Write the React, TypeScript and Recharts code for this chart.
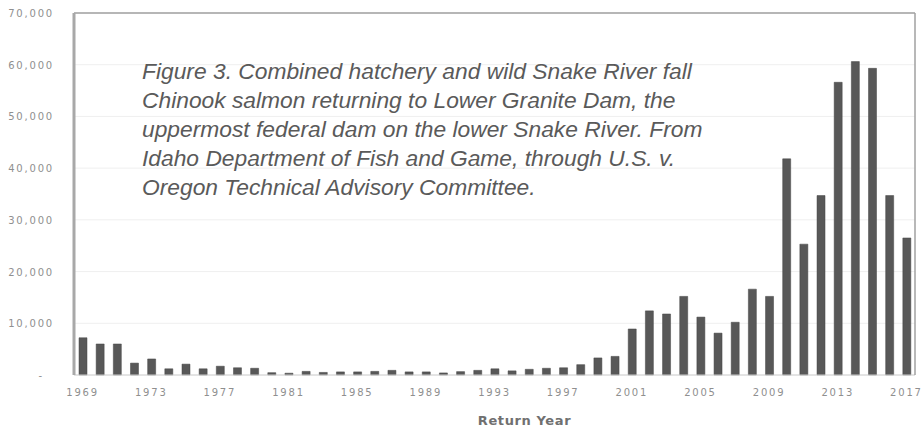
import React from "react";
import {
  BarChart,
  Bar,
  XAxis,
  YAxis,
  CartesianGrid,
  ReferenceLine,
} from "recharts";

const years = [
  "1969", "1970", "1971", "1972", "1973", "1974", "1975", "1976", "1977", "1978",
  "1979", "1980", "1981", "1982", "1983", "1984", "1985", "1986", "1987", "1988",
  "1989", "1990", "1991", "1992", "1993", "1994", "1995", "1996", "1997", "1998",
  "1999", "2000", "2001", "2002", "2003", "2004", "2005", "2006", "2007", "2008",
  "2009", "2010", "2011", "2012", "2013", "2014", "2015", "2016", "2017",
];

const returns = [
  7200, 6000, 6000, 2300, 3100, 1200, 2100, 1200, 1700, 1400,
  1300, 450, 350, 700, 500, 600, 600, 700, 900, 600,
  600, 400, 650, 900, 1200, 800, 1100, 1300, 1400, 2000,
  3300, 3600, 8900, 12400, 11800, 15200, 11200, 8100, 10200, 16600,
  15200, 41800, 25300, 34700, 56600, 60600, 59300, 34700, 26500,
];

const yTicks = [0, 10000, 20000, 30000, 40000, 50000, 60000, 70000];

const captionLines = [
  "Figure 3. Combined hatchery and wild Snake River fall",
  "Chinook salmon returning to Lower Granite Dam, the",
  "uppermost federal dam on the lower Snake River. From",
  "Idaho Department of Fish and Game, through U.S. v.",
  "Oregon Technical Advisory Committee.",
];

const data = years.map((year, i) => ({ year, value: returns[i] }));

const tickFont = {
  fill: "#8f8f8f",
  fontSize: 10,
  fontFamily: "DejaVu Sans",
  letterSpacing: 1.8,
};

// excel-style axis: zero shows as a dash, set in a bit from the numbers
function YTick(props: any) {
  const { x, y, payload } = props;
  const v = payload.value as number;
  const label = v === 0 ? "-" : v.toLocaleString("en-US");
  return (
    <text
      x={v === 0 ? x - 12 : x - 2}
      y={y}
      dy={4}
      textAnchor="end"
      {...tickFont}
    >
      {label}
    </text>
  );
}

export default function App() {
  return (
    <div style={{ position: "absolute", left: 0, top: 0, width: 921, height: 428, background: "#fff" }}>
      <BarChart
        width={921}
        height={428}
        data={data}
        margin={{ top: 13, right: 5, bottom: 0, left: 0 }}
        barSize={8}
      >
        <CartesianGrid vertical={false} stroke="#efefef" />
        <XAxis
          dataKey="year"
          interval={3}
          tickLine={false}
          axisLine={{ stroke: "#d0d0d0" }}
          tick={tickFont}
          tickMargin={8}
          height={53}
          label={{
            value: "Return Year",
            position: "insideBottom",
            offset: 3,
            dx: 30,
            fill: "#707070",
            fontSize: 13,
            fontWeight: "bold",
            fontFamily: "DejaVu Sans",
            letterSpacing: 0.6,
          }}
        />
        <YAxis
          domain={[0, 70000]}
          ticks={yTicks}
          tick={<YTick />}
          tickLine={false}
          axisLine={{ stroke: "#a8a8a8", strokeWidth: 3 }}
          tickMargin={12}
          width={74}
        />
        <YAxis
          yAxisId="frame"
          orientation="right"
          width={1}
          tick={false}
          tickLine={false}
          axisLine={{ stroke: "#a0a0a0", strokeWidth: 1.5 }}
        />
        <ReferenceLine y={70000} stroke="#a0a0a0" strokeWidth={1.5} />
        <Bar dataKey="value" fill="#585858" stroke="#444444" strokeWidth={0.5} isAnimationActive={false} />
      </BarChart>
      <div
        style={{
          position: "absolute",
          left: 142,
          top: 57,
          fontFamily: "Liberation Sans, Arial, sans-serif",
          fontStyle: "italic",
          fontSize: 22.8,
          lineHeight: "29px",
          color: "#5a5a5a",
          whiteSpace: "nowrap",
        }}
      >
        {captionLines.map((line) => (
          <div key={line}>{line}</div>
        ))}
      </div>
    </div>
  );
}
